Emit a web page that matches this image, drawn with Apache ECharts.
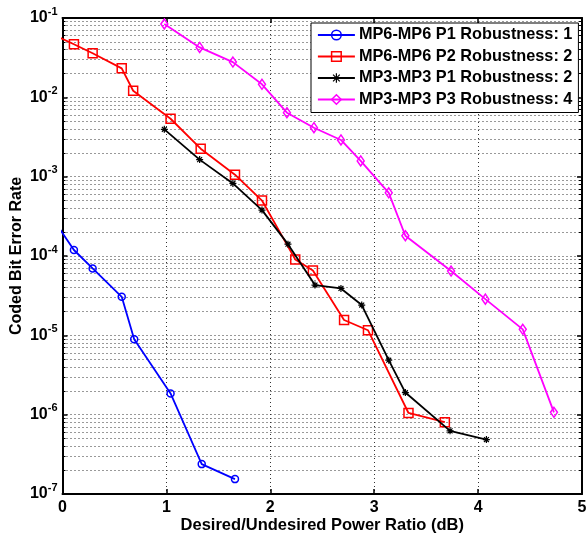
<!DOCTYPE html>
<html>
<head>
<meta charset="utf-8">
<script src="https://cdn.jsdelivr.net/npm/echarts@6/dist/echarts.min.js"></script>
<style>
  html, body { margin: 0; padding: 0; background: #fff; }
  #chart { width: 587px; height: 540px; }
</style>
</head>
<body>
<div id="chart"></div>
<script>
// Coded bit error rate versus desired/undesired power ratio

const seriesNames = [
  'MP6-MP6 P1 Robustness: 1',
  'MP6-MP6 P2 Robustness: 2',
  'MP3-MP3 P1 Robustness: 2',
  'MP3-MP3 P3 Robustness: 4'
];

// MP6-MP6 P1, robustness 1
const mp6p1X = [-0.06, 0.11, 0.29, 0.57, 0.69, 1.04, 1.34, 1.66];
const mp6p1Y = [2.54e-4, 1.19e-4, 6.97e-5, 3.06e-5, 8.95e-6, 1.85e-6, 2.38e-7, 1.54e-7];

// MP6-MP6 P2, robustness 2
const mp6p2X = [-0.1, 0.11, 0.29, 0.57, 0.68, 1.04, 1.33, 1.66, 1.92, 2.24, 2.41, 2.71, 2.94, 3.33, 3.68];
const mp6p2Y = [6.26e-2, 4.66e-2, 3.59e-2, 2.32e-2, 1.21e-2, 5.37e-3, 2.25e-3, 1.06e-3, 5.0e-4, 9.06e-5, 6.58e-5, 1.56e-5, 1.16e-5, 1.05e-6, 8.03e-7];

// MP3-MP3 P1, robustness 2
const mp3p1X = [0.98, 1.32, 1.64, 1.92, 2.17, 2.43, 2.68, 2.88, 3.14, 3.30, 3.73, 4.08];
const mp3p1Y = [3.95e-3, 1.64e-3, 8.22e-4, 3.79e-4, 1.41e-4, 4.3e-5, 3.9e-5, 2.41e-5, 4.86e-6, 1.9e-6, 6.25e-7, 4.86e-7];

// MP3-MP3 P3, robustness 4
const mp3p3X = [0.98, 1.32, 1.64, 1.92, 2.16, 2.42, 2.68, 2.87, 3.14, 3.30, 3.74, 4.07, 4.43, 4.73];
const mp3p3Y = [8.4e-2, 4.26e-2, 2.78e-2, 1.46e-2, 6.4e-3, 4.14e-3, 2.9e-3, 1.58e-3, 6.26e-4, 1.8e-4, 6.46e-5, 2.86e-5, 1.19e-5, 1.07e-6];

// Axis ticks
const xTicks = [0, 1, 2, 3, 4, 5];
const yTickExponents = [-7, -6, -5, -4, -3, -2, -1];

const FONT = "'Liberation Sans', Arial, sans-serif";
const colors = ['#0000ff', '#ff0000', '#000000', '#ff00ff'];
const starPath = 'path://M0,-1L0,1M-1,0L1,0M-0.7,-0.7L0.7,0.7M-0.7,0.7L0.7,-0.7';
const markers = ['circle', 'rect', starPath, 'diamond'];
const markerSizes = [7, 9, 7, [7, 10]];
const xs = [mp6p1X, mp6p2X, mp3p1X, mp3p3X];
const ys = [mp6p1Y, mp6p2Y, mp3p1Y, mp3p3Y];

const gridDots = { color: '#333', width: 1, type: [1, 3] };

function markerStyle(i) {
  return {
    color: i === 2 ? '#000' : 'rgba(0,0,0,0)',
    borderColor: colors[i],
    borderWidth: i === 2 ? 1.2 : 1.5
  };
}

const series = seriesNames.map((name, i) => ({
  name: name,
  type: 'line',
  xAxisIndex: 0,
  yAxisIndex: 0,
  clip: true,
  data: xs[i].map((x, k) => [x, ys[i][k]]),
  symbol: markers[i],
  symbolSize: markerSizes[i],
  showAllSymbol: true,
  lineStyle: { color: colors[i], width: 1.8 },
  itemStyle: markerStyle(i),
  emphasis: { disabled: true },
  z: 3 + i
}));

const legendData = seriesNames.map((name, i) => ({
  name: name,
  itemStyle: markerStyle(i),
  lineStyle: { color: colors[i], width: 1.8 }
}));

const yMin = Math.pow(10, yTickExponents[0]);
const yMax = Math.pow(10, yTickExponents[yTickExponents.length - 1]);

const option = {
  backgroundColor: '#fff',
  animation: false,
  grid: { left: 62.5, right: 5, top: 18, bottom: 46, outerBoundsMode: 'none', containLabel: false },
  legend: {
    orient: 'vertical',
    left: 311,
    top: 23,
    data: legendData,
    itemWidth: 37,
    itemHeight: 12,
    itemGap: 5.5,
    padding: [4, 6, 5, 6],
    backgroundColor: '#fff',
    borderColor: '#000',
    borderWidth: 1,
    borderRadius: 0,
    selectedMode: false,
    textStyle: { fontFamily: FONT, fontSize: 16.3, fontWeight: 'bold', color: '#000', padding: [0, 0, 0, -1] }
  },
  xAxis: [
    {
      type: 'value',
      min: xTicks[0],
      max: xTicks[xTicks.length - 1],
      interval: 1,
      name: 'Desired/Undesired Power Ratio (dB)',
      nameLocation: 'middle',
      nameGap: 23,
      nameMoveOverlap: false,
      nameTextStyle: { fontFamily: FONT, fontSize: 16.5, fontWeight: 'bold', color: '#000' },
      axisLine: { show: true, onZero: false, lineStyle: { color: '#000', width: 2 } },
      axisTick: { show: true, inside: true, length: 5, lineStyle: { color: '#000', width: 1.5 } },
      axisLabel: {
        fontFamily: FONT, fontSize: 16, fontWeight: 'bold', color: '#000', margin: 6,
        formatter: v => xTicks.includes(v) ? String(v) : ''
      },
      splitLine: { show: true, lineStyle: gridDots }
    },
    {
      type: 'value',
      position: 'top',
      min: xTicks[0],
      max: xTicks[xTicks.length - 1],
      interval: 1,
      axisLine: { show: true, onZero: false, lineStyle: { color: '#000', width: 2 } },
      axisTick: { show: true, inside: true, length: 5, lineStyle: { color: '#000', width: 1.5 } },
      axisLabel: { show: false },
      splitLine: { show: false }
    }
  ],
  yAxis: [
    {
      type: 'log',
      logBase: 10,
      min: yMin,
      max: yMax,
      interval: 1,
      name: 'Coded Bit Error Rate',
      nameLocation: 'middle',
      nameGap: 38,
      nameMoveOverlap: false,
      nameTextStyle: { fontFamily: FONT, fontSize: 16, fontWeight: 'bold', color: '#000' },
      axisLine: { show: true, onZero: false, lineStyle: { color: '#000', width: 2 } },
      axisTick: { show: true, inside: true, length: 5, lineStyle: { color: '#000', width: 1.5 } },
      minorTick: { show: true, splitNumber: 9, length: 3, lineStyle: { color: '#000', width: 1 } },
      axisLabel: {
        margin: 5,
        formatter: v => '{b|10}{s|' + Math.round(Math.log10(v)) + '}',
        rich: {
          b: { fontFamily: FONT, fontSize: 16, fontWeight: 'bold', color: '#000', lineHeight: 24 },
          s: { fontFamily: FONT, fontSize: 11, fontWeight: 'bold', color: '#000', verticalAlign: 'top', lineHeight: 9 }
        }
      },
      splitLine: { show: true, lineStyle: gridDots },
      minorSplitLine: { show: true, lineStyle: gridDots }
    },
    {
      type: 'log',
      logBase: 10,
      position: 'right',
      min: yMin,
      max: yMax,
      interval: 1,
      axisLine: { show: true, onZero: false, lineStyle: { color: '#000', width: 2 } },
      axisTick: { show: true, inside: true, length: 5, lineStyle: { color: '#000', width: 1.5 } },
      minorTick: { show: true, splitNumber: 9, length: 3, lineStyle: { color: '#000', width: 1 } },
      axisLabel: { show: false },
      splitLine: { show: false }
    }
  ],
  series: series
};

const chart = echarts.init(document.getElementById('chart'), null, { renderer: 'canvas' });
chart.setOption(option);
</script>
</body>
</html>
